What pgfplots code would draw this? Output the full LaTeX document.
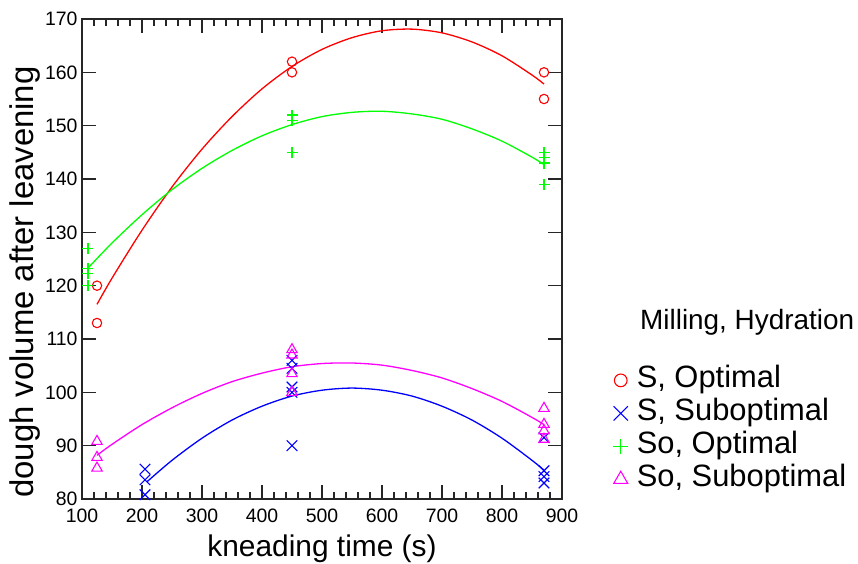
\documentclass[border=0pt]{standalone}
\usepackage{fontspec}
\setmainfont{Liberation Sans}
\usepackage{pgfplots}
\pgfplotsset{compat=1.18}

\definecolor{cS}{RGB}{255,0,0}
\definecolor{cSsub}{RGB}{0,0,255}
\definecolor{cSo}{RGB}{0,255,0}
\definecolor{cSosub}{RGB}{255,0,255}

\begin{document}
\begin{tikzpicture}
\begin{axis}[
  scale only axis, width=480bp, height=480bp,
  xmin=100, xmax=900, ymin=80, ymax=170,
  xtick={100,200,...,900}, ytick={80,90,...,170},
  minor x tick num=4,
  tick align=inside, xtick pos=both, ytick pos=both,
  major tick length=14bp, minor tick length=7bp,
  axis line style={line width=1.2bp, black!85},
  every tick/.style={black!85, line width=1.2bp},
  tick label style={font=\fontsize{19.5}{21}\selectfont},
  xticklabel style={yshift=-6bp},
  yticklabel style={xshift=-1bp},
  /pgf/number format/assume math mode=true,
  /pgf/number format/set thousands separator={},
  xlabel={kneading time (s)},
  ylabel={dough volume after leavening},
  xlabel style={font=\fontsize{30}{33}\selectfont,
    at={(axis description cs:0.5,-0.104)}, anchor=center},
  ylabel style={font=\fontsize{33}{36}\selectfont,
    at={(axis description cs:-0.118,0.452)}, anchor=center},
  legend style={at={(axis description cs:1.097,0.284)}, anchor=north west,
    draw=none, fill=none, font=\fontsize{31}{34}\selectfont, row sep=2bp,
    nodes={inner sep=1bp, text height=22bp, text depth=7bp}},
  legend cell align=left,
  legend image code/.code={%
    \draw[mark repeat=2,mark phase=2]
      plot coordinates {(0bp,0bp)(9bp,0bp)(24bp,0bp)};
    \path[draw=none, fill=none] (0bp,0bp) (24bp,0bp);},
  every legend image post/.style={mark options={scale=1.35}},
]
% fitted quadratic trends
\addplot[cS, line width=1.3bp, smooth, forget plot] coordinates {
  (125,116.5)(150,121.4)(200,130.4)(250,138.5)(300,145.6)(350,151.7)
  (400,156.9)(450,161.1)(500,164.3)(550,166.5)(600,167.8)(650,168.1)
  (700,167.4)(750,165.7)(800,163.1)(850,159.5)(870,157.8)};
\addplot[cSsub, line width=1.3bp, smooth, forget plot] coordinates {
  (208,83.2)(250,87.25)(300,91.4)(350,94.8)(400,97.4)(450,99.3)
  (500,100.4)(550,100.8)(600,100.4)(650,99.3)(700,97.4)(750,94.8)
  (800,91.4)(850,87.25)(870,85.4)};
\addplot[cSo, line width=1.3bp, smooth, forget plot] coordinates {
  (110,123.3)(150,128.0)(200,133.3)(250,138.0)(300,142.0)(350,145.35)
  (400,148.1)(450,150.2)(500,151.7)(550,152.5)(600,152.7)(650,152.2)
  (700,151.2)(750,149.4)(800,147.1)(850,144.1)(870,142.7)};
\addplot[cSosub, line width=1.3bp, smooth, forget plot] coordinates {
  (125,88.2)(150,90.25)(200,93.95)(250,97.1)(300,99.8)(350,102.0)
  (400,103.6)(450,104.8)(500,105.4)(550,105.5)(600,105.1)(650,104.1)
  (700,102.7)(750,100.7)(800,98.3)(850,95.3)(870,93.95)};

% observations
\addplot[cS, only marks, mark=o, mark size=4.7bp, line width=1.1bp] coordinates {
  (125,120)(125,113)(450,162)(450,160)(870,160)(870,155)};
\addlegendentry{S, Optimal}
\addplot[cSsub, only marks, mark=x, mark size=7.5bp, line width=1.1bp] coordinates {
  (205,85.6)(205,83.6)(205,80.8)
  (450,106)(450,104.5)(450,101)(450,100)(450,90)
  (870,91.5)(870,85.3)(870,84.2)(870,83)};
\addlegendentry{S, Suboptimal}
\addplot[cSo, only marks, mark=+, mark size=5.5bp, line width=1.1bp] coordinates {
  (110,127)(110,123.2)(110,122.2)(110,120)
  (450,152)(450,151)(450,145)
  (870,145)(870,144)(870,143)(870,139)};
\addlegendentry{So, Optimal}
\addplot[cSosub, only marks, mark=triangle, mark size=6bp, line width=1.1bp] coordinates {
  (125,90.8)(125,87.8)(125,85.8)
  (450,108)(450,107)(450,103.5)(450,100)
  (870,97)(870,94)(870,92.8)(870,91.2)};
\addlegendentry{So, Suboptimal}
\end{axis}
\node[anchor=west, font=\fontsize{28}{32}\selectfont, inner sep=0pt] at (558bp,177bp) {Milling, Hydration};
\pgfresetboundingbox
\path (-82bp,-65bp) rectangle (776bp,499bp);
\end{tikzpicture}
\end{document}
